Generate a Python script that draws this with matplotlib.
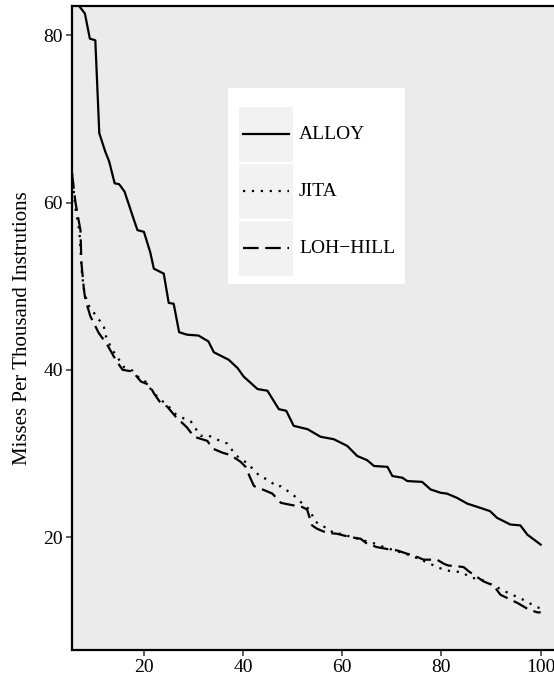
import matplotlib
matplotlib.use("Agg")
import matplotlib.pyplot as plt
from matplotlib.patches import Rectangle
from matplotlib.lines import Line2D

plt.rcParams["font.family"] = ["Liberation Serif", "DejaVu Serif"]

# Miss-rate curves (x = cache size setting, y = misses per thousand instructions)
alloy_x = [5.0, 8.1, 9.1, 10.2, 11.0, 12.2, 13.0, 14.1, 15.0, 16.1, 18.0, 18.7, 20.0,
           21.3, 22.0, 24.0, 25.0, 26.0, 27.1, 28.7, 31.0, 33.0, 34.1, 37.1, 38.9,
           40.1, 42.9, 44.9, 47.2, 48.7, 50.2, 53.0, 55.6, 58.3, 61.0, 63.0, 65.0,
           66.4, 69.1, 70.1, 72.1, 73.1, 76.1, 77.8, 79.8, 81.1, 83.1, 85.2, 87.8,
           89.8, 91.2, 93.9, 95.9, 97.3, 100.0]
alloy_y = [85.0, 82.6, 79.6, 79.4, 68.3, 66.1, 64.9, 62.3, 62.2, 61.3, 57.9, 56.7, 56.5,
           54.0, 52.1, 51.5, 48.0, 47.9, 44.5, 44.2, 44.1, 43.4, 42.1, 41.2, 40.2,
           39.2, 37.7, 37.5, 35.3, 35.1, 33.3, 32.9, 32.0, 31.7, 30.9, 29.7, 29.2,
           28.5, 28.4, 27.3, 27.1, 26.7, 26.6, 25.7, 25.3, 25.2, 24.7, 24.0, 23.5,
           23.1, 22.3, 21.5, 21.4, 20.3, 19.1]

jita_x = [5.5, 6.2, 7.0, 7.5, 8.0, 8.7, 9.5, 10.5, 11.9, 12.2, 13.5, 15.0, 16.0, 17.7,
          19.4, 20.3, 21.6, 23.0, 24.7, 26.4, 28.0, 29.5, 31.4, 32.8, 36.1, 36.8,
          38.5, 40.9, 42.2, 43.5, 44.9, 46.9, 47.6, 50.2, 50.9, 52.3, 53.6, 54.3,
          55.6, 57.3, 58.3, 59.6, 63.7, 66.7, 68.4, 73.8, 77.8, 79.1, 81.1, 84.1,
          85.8, 88.5, 93.2, 96.5, 99.3, 100.0]
jita_y = [63.5, 59.3, 56.5, 51.5, 49.3, 47.8, 47.2, 46.3, 45.3, 44.2, 42.5, 41.2, 40.3, 39.9,
          38.8, 38.6, 37.5, 36.6, 35.8, 34.7, 34.2, 33.8, 32.1, 32.2, 31.3, 31.2,
          29.8, 28.8, 28.0, 27.2, 26.9, 26.0, 26.1, 25.0, 24.6, 23.8, 23.2, 22.0,
          21.4, 21.0, 20.4, 20.4, 19.7, 19.2, 18.8, 17.8, 16.8, 16.4, 16.0, 15.8,
          15.2, 14.8, 13.4, 12.5, 11.6, 11.5]

loh_x = [5.5, 6.2, 7.2, 7.4, 7.9, 8.2, 9.2, 10.9, 12.6, 14.3, 15.7, 17.7, 19.4, 21.1,
         22.0, 23.4, 24.7, 26.4, 28.7, 30.1, 32.8, 33.8, 35.8, 37.5, 39.5, 40.5,
         41.5, 42.2, 43.9, 45.9, 47.6, 49.2, 51.9, 52.9, 53.9, 54.9, 56.9, 58.9,
         61.6, 63.7, 65.0, 67.0, 69.7, 71.1, 73.1, 74.4, 76.4, 79.1, 80.5, 81.4,
         83.4, 84.5, 85.5, 88.5, 90.5, 91.9, 95.4, 97.4, 99.3, 100.0]
loh_y = [63.5, 60.0, 56.7, 52.8, 49.6, 48.4, 46.4, 44.4, 43.0, 41.2, 40.0, 39.8, 38.6, 38.2,
         37.2, 36.0, 35.6, 34.4, 33.1, 32.0, 31.5, 30.6, 30.1, 29.8, 29.0, 28.4,
         27.0, 26.1, 25.7, 25.2, 24.1, 23.9, 23.6, 23.3, 21.4, 21.0, 20.5, 20.4,
         20.0, 19.8, 19.2, 18.8, 18.5, 18.4, 18.0, 17.8, 17.3, 17.3, 16.8, 16.6,
         16.5, 16.4, 15.9, 14.7, 14.2, 13.1, 12.1, 11.4, 11.0, 11.0]

series_names = ["ALLOY", "JITA", "LOH\u2212HILL"]
x_ticks = [20, 40, 60, 80, 100]
y_ticks = [20, 40, 60, 80]
y_label = "Misses Per Thousand Instrutions"

styles = ["-", (0, (1, 3)), (0, (7, 3))]
LW = 1.6
TICK_FS = 14
LEGEND_FS = 14

W, H = 554, 681
fig = plt.figure(figsize=(W / 100, H / 100), dpi=100)
left, right, top, bottom = 72, 563, 6, 650
ax = fig.add_axes([left / W, 1 - bottom / H, (right - left) / W, (bottom - top) / H])
ax.set_facecolor("#EBEBEB")

for xs, ys, ls in zip([alloy_x, jita_x, loh_x], [alloy_y, jita_y, loh_y], styles):
    ax.plot(xs, ys, color="black", lw=LW, linestyle=ls, solid_joinstyle="round",
            dash_capstyle="butt")

ax.set_xlim(5.5, 104.5)
ax.set_ylim(6.5, 83.5)
ax.set_xticks(x_ticks)
ax.set_yticks(y_ticks)
ax.tick_params(axis="both", direction="out", length=4, width=1.1, color="#333333",
               labelsize=TICK_FS, labelcolor="black", pad=2.5)
for s in ax.spines.values():
    s.set_linewidth(1.6)
    s.set_color("black")
ax.set_ylabel(y_label, fontsize=15, labelpad=8)

# Legend panel
lg_left, lg_top, lg_right, lg_bottom = 228, 88, 405, 284
lax = fig.add_axes([lg_left / W, 1 - lg_bottom / H, (lg_right - lg_left) / W,
                    (lg_bottom - lg_top) / H])
lax.set_xlim(lg_left, lg_right)
lax.set_ylim(lg_bottom, lg_top)
lax.axis("off")
lax.add_patch(Rectangle((lg_left, lg_top), lg_right - lg_left, lg_bottom - lg_top,
                        facecolor="white", edgecolor="none"))
key_tops = [107, 164, 221]
for name, ls, kt in zip(series_names, styles, key_tops):
    lax.add_patch(Rectangle((239, kt), 54, 55, facecolor="#F2F2F2", edgecolor="none"))
    yc = kt + 27.5
    lax.add_line(Line2D([243, 289], [yc, yc], color="black", lw=LW, linestyle=ls,
                        dash_capstyle="butt"))
    lax.text(299, yc, name, fontsize=LEGEND_FS, va="center", ha="left")

fig.savefig("out.png", dpi=100)
